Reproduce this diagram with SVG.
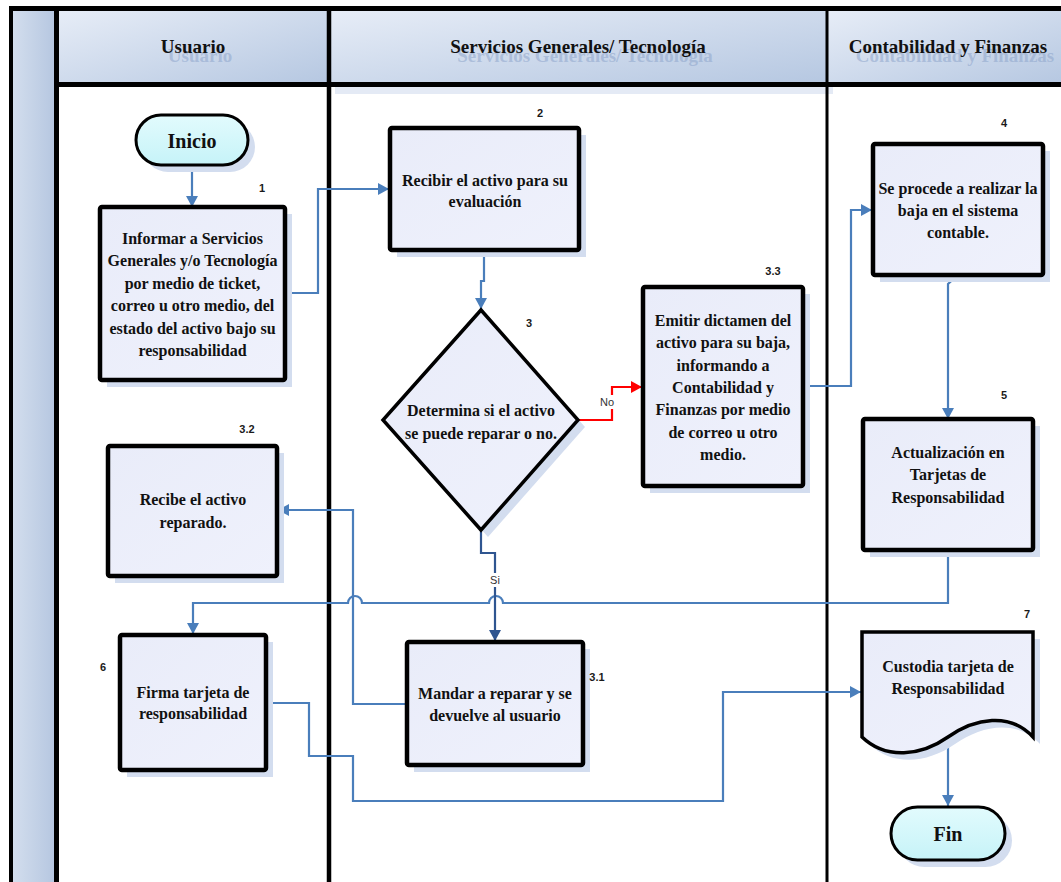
<svg xmlns="http://www.w3.org/2000/svg" width="1061" height="882" viewBox="0 0 1061 882">
<defs>
<linearGradient id="gHead" x1="0" y1="0" x2="1" y2="1">
<stop offset="0" stop-color="#e7edf7"/><stop offset="1" stop-color="#b5c7e1"/>
</linearGradient>
<linearGradient id="gBar" x1="0" y1="0" x2="1" y2="0">
<stop offset="0" stop-color="#d4dfee"/><stop offset="1" stop-color="#b5c6e0"/>
</linearGradient>
<linearGradient id="gNode" x1="0" y1="0" x2="1" y2="1">
<stop offset="0" stop-color="#e9ecf9"/><stop offset="1" stop-color="#eff1fc"/>
</linearGradient>
<linearGradient id="gTerm" x1="0" y1="0" x2="0" y2="1">
<stop offset="0" stop-color="#e2fbfd"/><stop offset="1" stop-color="#c6f3f8"/>
</linearGradient>
<marker id="arr" markerUnits="userSpaceOnUse" markerWidth="11" markerHeight="12" refX="11" refY="6" orient="auto">
<path d="M0,0 L11,6 L0,12 z" fill="#4a7ebb"/>
</marker>
<marker id="arrDark" markerUnits="userSpaceOnUse" markerWidth="11" markerHeight="12" refX="11" refY="6" orient="auto">
<path d="M0,0 L11,6 L0,12 z" fill="#2f5590"/>
</marker>
<marker id="arrRed" markerUnits="userSpaceOnUse" markerWidth="11" markerHeight="12" refX="11" refY="6" orient="auto">
<path d="M0,0 L11,6 L0,12 z" fill="#ff0000"/>
</marker>
<style>
.box{fill:url(#gNode);stroke:#000;stroke-width:4.5}
.shd{fill:#d3ddef}
.term{fill:url(#gTerm);stroke:#000;stroke-width:3}
.t{font-family:"Liberation Serif","Times New Roman",serif;font-weight:bold;font-size:16px;fill:#111;text-anchor:middle}
.tt{font-family:"Liberation Serif","Times New Roman",serif;font-weight:bold;font-size:20px;fill:#111;text-anchor:middle}
.h{font-family:"Liberation Serif","Times New Roman",serif;font-weight:bold;font-size:19px;fill:#111;text-anchor:middle}
.hs{font-family:"Liberation Serif","Times New Roman",serif;font-weight:bold;font-size:19px;fill:#8ea5cb;fill-opacity:0.55;text-anchor:middle}
.n{font-family:"Liberation Sans",Arial,sans-serif;font-weight:bold;font-size:11px;fill:#1a1a1a;text-anchor:middle}
.lbl{font-family:"Liberation Sans",Arial,sans-serif;font-size:11px;fill:#333;text-anchor:middle}
.c{fill:none;stroke:#4a7ebb;stroke-width:2.2}
.ln{stroke:#000;fill:none}
</style>
</defs>
<rect x="0" y="0" width="1061" height="882" fill="#fff"/>

<g id="lanes">
<rect x="11" y="8" width="45" height="880" fill="url(#gBar)"/>
<rect x="335" y="14" width="498" height="80" fill="#c9d6ec" fill-opacity="0.5"/>
<rect x="58" y="10" width="271" height="75" fill="url(#gHead)"/>
<rect x="329" y="10" width="498" height="75" fill="url(#gHead)"/>
<rect x="827" y="10" width="240" height="75" fill="url(#gHead)"/>
<text class="hs" x="200" y="62">Usuario</text>
<text class="h" x="193" y="53">Usuario</text>
<text class="hs" x="585" y="62">Servicios Generales/ Tecnología</text>
<text class="h" x="578" y="53">Servicios Generales/ Tecnología</text>
<text class="hs" x="955" y="62">Contabilidad y Finanzas</text>
<text class="h" x="948" y="53">Contabilidad y Finanzas</text>
<line class="ln" x1="9" y1="8.5" x2="1061" y2="8.5" stroke-width="5"/>
<line class="ln" x1="56" y1="84.5" x2="1061" y2="84.5" stroke-width="5"/>
<line class="ln" x1="11" y1="6" x2="11" y2="882" stroke-width="4"/>
<line class="ln" x1="56.5" y1="6" x2="56.5" y2="882" stroke-width="5"/>
<line class="ln" x1="329" y1="6" x2="329" y2="882" stroke-width="4.5"/>
<line class="ln" x1="827" y1="6" x2="827" y2="882" stroke-width="3"/>
</g>

<g id="connectors">
<path class="c" d="M192,167 V207" marker-end="url(#arr)"/>
<path class="c" d="M285,293 H318 V189 H389" marker-end="url(#arr)"/>
<path class="c" d="M484,250 V281 H481 V309" marker-end="url(#arr)"/>
<path class="c" d="M578,420 H612 V387 H642" stroke="#ff0000" style="stroke:#ff0000" marker-end="url(#arrRed)"/>
<path class="c" d="M803,386 H851 V210 H872" marker-end="url(#arr)"/>
<path class="c" d="M958,275 L948,284 V419" marker-end="url(#arr)"/>
<path class="c" d="M948,550 V603 H503 A7,7 0 0 0 489,603 H362 A7,7 0 0 0 348,603 H193 V634" marker-end="url(#arr)"/>
<path class="c" d="M481,530 V553 H495 V641" style="stroke:#2f5590" marker-end="url(#arrDark)"/>
<path class="c" d="M407,704 H353 V510 H278" marker-end="url(#arr)"/>
<path class="c" d="M266,703 H309 V756 H353 V801 H723 V692 H861" marker-end="url(#arr)"/>
<path class="c" d="M948,740 V806" marker-end="url(#arr)"/>
<rect x="598" y="395" width="19" height="14" fill="#fff"/>
<text class="lbl" x="607" y="406">No</text>
<rect x="487" y="573" width="16" height="14" fill="#fff"/>
<text class="lbl" x="495" y="584">Si</text>
</g>

<g id="inicio">
<rect x="143" y="122" width="112" height="50" rx="25" class="shd"/>
<rect x="136" y="115" width="112" height="50" rx="25" class="term"/>
<text class="tt" x="192" y="148">Inicio</text>
</g>

<g id="n1">
<rect x="107" y="214" width="185" height="173" class="shd"/>
<rect x="100" y="207" width="185" height="173" rx="2" class="box"/>
<text class="n" x="262" y="192">1</text>
<text class="t" x="192.5" y="244">Informar a Servicios</text>
<text class="t" x="192.5" y="266.4">Generales y/o Tecnología</text>
<text class="t" x="192.5" y="288.8">por medio de ticket,</text>
<text class="t" x="192.5" y="311.2">correo u otro medio, del</text>
<text class="t" x="192.5" y="333.6">estado del activo bajo su</text>
<text class="t" x="192.5" y="356">responsabilidad</text>
</g>

<g id="n2">
<rect x="397" y="135" width="189" height="122" class="shd"/>
<rect x="390" y="128" width="189" height="122" rx="2" class="box"/>
<text class="n" x="540" y="117">2</text>
<text class="t" x="485" y="186">Recibir el activo para su</text>
<text class="t" x="485" y="207">evaluación</text>
</g>

<g id="n3">
<polygon points="488,317 585,427 488,537 390,427" class="shd"/>
<polygon points="481,310 578,420 481,530 383,420" fill="url(#gNode)" stroke="#000" stroke-width="3.5" stroke-linejoin="miter"/>
<text class="n" x="529" y="327">3</text>
<text class="t" x="481" y="416">Determina si el activo</text>
<text class="t" x="481" y="439">se puede reparar o no.</text>
</g>

<g id="n33">
<rect x="650" y="294" width="160" height="199" class="shd"/>
<rect x="643" y="287" width="160" height="199" rx="2" class="box"/>
<text class="n" x="773" y="275">3.3</text>
<text class="t" x="723" y="326">Emitir dictamen del</text>
<text class="t" x="723" y="348">activo para su baja,</text>
<text class="t" x="723" y="370.5">informando a</text>
<text class="t" x="723" y="393">Contabilidad y</text>
<text class="t" x="723" y="415">Finanzas por medio</text>
<text class="t" x="723" y="437.5">de correo u otro</text>
<text class="t" x="723" y="460">medio.</text>
</g>

<g id="n4">
<rect x="880" y="151" width="170" height="131" class="shd"/>
<rect x="873" y="144" width="170" height="131" rx="2" class="box"/>
<text class="n" x="1004" y="127">4</text>
<text class="t" x="958" y="194">Se procede a realizar la</text>
<text class="t" x="958" y="216">baja en el sistema</text>
<text class="t" x="958" y="238">contable.</text>
</g>

<g id="n5">
<rect x="870" y="426" width="170" height="131" class="shd"/>
<rect x="863" y="419" width="170" height="131" rx="2" class="box"/>
<text class="n" x="1004" y="399">5</text>
<text class="t" x="948" y="458">Actualización en</text>
<text class="t" x="948" y="480">Tarjetas de</text>
<text class="t" x="948" y="503">Responsabilidad</text>
</g>

<g id="n32">
<rect x="115" y="453" width="169" height="130" class="shd"/>
<rect x="108" y="446" width="169" height="130" rx="2" class="box"/>
<text class="n" x="247" y="433">3.2</text>
<text class="t" x="193" y="505">Recibe el activo</text>
<text class="t" x="193" y="528">reparado.</text>
</g>

<g id="n31">
<rect x="414" y="649" width="176" height="123" class="shd"/>
<rect x="407" y="642" width="176" height="123" rx="2" class="box"/>
<text class="n" x="597" y="681">3.1</text>
<text class="t" x="495" y="699">Mandar a reparar y se</text>
<text class="t" x="495" y="721">devuelve al usuario</text>
</g>

<g id="n6">
<rect x="127" y="642" width="146" height="135" class="shd"/>
<rect x="120" y="635" width="146" height="135" rx="2" class="box"/>
<text class="n" x="103" y="671">6</text>
<text class="t" x="193" y="698">Firma tarjeta de</text>
<text class="t" x="193" y="719">responsabilidad</text>
</g>

<g id="n7">
<path d="M869,639 H1040 V744 C1017,719 982,725 955,744 C928,763 893,767 869,744 Z" class="shd"/>
<path d="M862,632 H1033 V737 C1010,712 975,718 948,737 C921,756 886,760 862,737 Z" fill="url(#gNode)" stroke="#000" stroke-width="3.5"/>
<text class="n" x="1027" y="618">7</text>
<text class="t" x="948" y="672">Custodia tarjeta de</text>
<text class="t" x="948" y="694">Responsabilidad</text>
</g>

<g id="fin">
<rect x="898" y="814" width="114" height="53" rx="26.5" class="shd"/>
<rect x="891" y="807" width="114" height="53" rx="26.5" class="term"/>
<text class="tt" x="948" y="841">Fin</text>
</g>
</svg>
